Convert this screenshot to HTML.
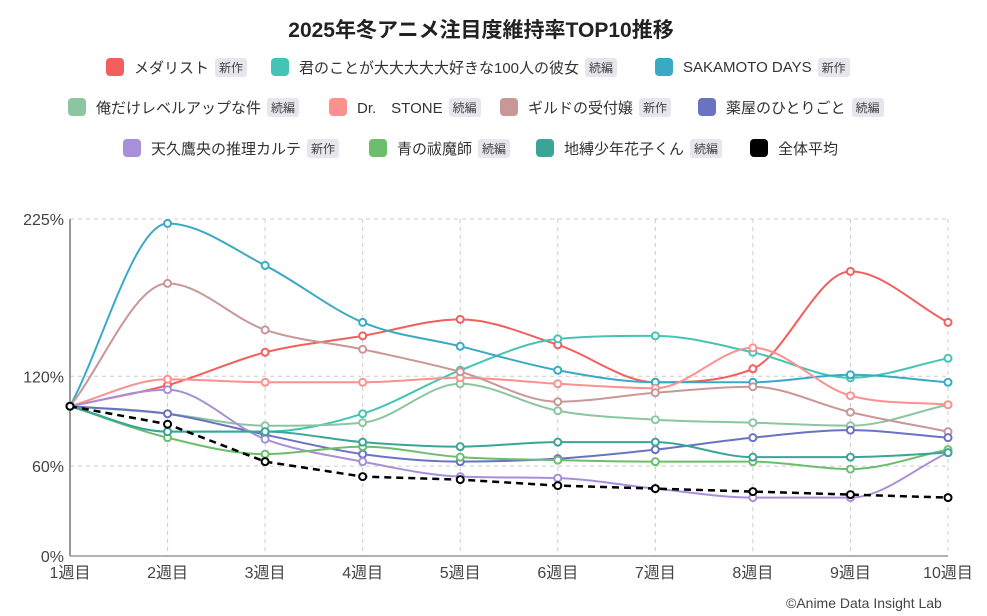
<!DOCTYPE html>
<html><head><meta charset="utf-8">
<style>
body{margin:0;width:987px;height:616px;background:#fff;font-family:"Liberation Sans","Noto Sans CJK JP",sans-serif;overflow:hidden;position:relative}
.title{position:absolute;top:14px;left:0;width:962px;text-align:center;font-size:21px;font-weight:bold;color:#222}
.li{position:absolute;display:flex;align-items:center;font-size:15px;color:#333;white-space:nowrap;height:22px}
.sw{width:18px;height:18px;border-radius:4px;margin-right:10px}
.tag{background:#e6e6ec;color:#444;font-size:12px;padding:1px 4px;border-radius:3px;margin-left:6px}
.foot{position:absolute;left:786px;top:595px;font-size:14px;color:#444}
</style></head><body>
<div class="title">2025年冬アニメ注目度維持率TOP10推移</div>
<div id="legend"></div>
<svg id="chart" width="987" height="616" style="position:absolute;left:0;top:0"></svg>
<div class="foot">©Anime Data Insight Lab</div>
<script>
const weeks=["1週目","2週目","3週目","4週目","5週目","6週目","7週目","8週目","9週目","10週目"];
const yTicks=[0,60,120,225];
const names=["メダリスト","君のことが大大大大大好きな100人の彼女","SAKAMOTO DAYS","俺だけレベルアップな件","Dr.　STONE","ギルドの受付嬢","薬屋のひとりごと","天久鷹央の推理カルテ","青の祓魔師","地縛少年花子くん","全体平均"];
const tags=["新作","続編","新作","続編","続編","新作","続編","新作","続編","続編",""];
const colors=["#f25f5c","#45c4b6","#3aaac4","#8cc6a0","#ff9090","#c99797","#6a72c2","#a88fd9","#6cbd6c","#3aa597","#000"];
const s0=[100,114,136,147,158,141,116,125,190,156];
const s1=[100,83,83,95,124,145,147,136,119,132];
const s2=[100,222,194,156,140,124,116,116,121,116];
const s3=[100,95,87,89,115,97,91,89,87,101];
const s4=[100,118,116,116,119,115,112,139,107,101];
const s5=[100,182,151,138,123,103,109,113,96,83];
const s6=[100,95,81,68,63,65,71,79,84,79];
const s7=[100,111,78,63,53,52,45,39,39,69];
const s8=[100,79,68,73,66,64,63,63,58,71];
const s9=[100,83,83,76,73,76,76,66,66,69];
const avg=[100,88,63,53,51,47,45,43,41,39];
const series=[s0,s1,s2,s3,s4,s5,s6,s7,s8,s9,avg];
const legendPos=[[106,56],[271,56],[655,56],[68,96],[329,96],[500,96],[698,96],[123,137],[369,137],[536,137],[750,137]];

const X0=70,X1=948,Y0=556,Y1=219;
const xs=i=>X0+i*(X1-X0)/(weeks.length-1);
const ys=v=>Y0-v*(Y0-Y1)/225;
const svg=document.getElementById('chart');
const NS="http://www.w3.org/2000/svg";
function mk(t,a){const e=document.createElementNS(NS,t);for(const k in a)e.setAttribute(k,a[k]);svg.appendChild(e);return e;}
yTicks.forEach(t=>{
  const l=mk('line',{x1:X0,x2:X1,y1:ys(t),y2:ys(t),stroke:'#ccc','stroke-dasharray':'4,4'});
  
  
  const tx=mk('text',{x:X0-6,y:ys(t)+6,'text-anchor':'end','font-size':16,fill:'#444'});
  tx.textContent=t+'%';
  
  
});
weeks.forEach((w,i)=>{
  if(i>0){const g=mk('line',{x1:xs(i),x2:xs(i),y1:Y1,y2:Y0,stroke:'#ccc','stroke-dasharray':'4,4'});
  
  }
  const tx=mk('text',{x:xs(i),y:Y0+22,'text-anchor':'middle','font-size':16,fill:'#444'});
  tx.textContent=w;
  
  
});
const ax=mk('line',{x1:X0,x2:X0,y1:Y1,y2:Y0,stroke:'#999','stroke-width':2});


const bx=mk('line',{x1:X0,x2:X1,y1:Y0,y2:Y0,stroke:'#999','stroke-width':1.5});


function monotone(pts){
  const n=pts.length,dx=[],m=[],t=new Array(n);
  for(let i=0;i<n-1;i++){dx[i]=pts[i+1][0]-pts[i][0];m[i]=(pts[i+1][1]-pts[i][1])/dx[i];}
  t[0]=m[0];t[n-1]=m[n-2];
  for(let i=1;i<n-1;i++){t[i]=(m[i-1]*m[i]<=0)?0:(m[i-1]+m[i])/2;}
  for(let i=0;i<n-1;i++){
    if(m[i]===0){t[i]=0;t[i+1]=0;continue;}
    const a=t[i]/m[i],b=t[i+1]/m[i],s=a*a+b*b;
    if(s>9){const k=3/Math.sqrt(s);t[i]=k*a*m[i];t[i+1]=k*b*m[i];}
  }
  let d=`M${pts[0][0]},${pts[0][1]}`;
  for(let i=0;i<n-1;i++){
    const h=dx[i]/3;
    d+=` C${pts[i][0]+h},${pts[i][1]+t[i]*h} ${pts[i+1][0]-h},${pts[i+1][1]-t[i+1]*h} ${pts[i+1][0]},${pts[i+1][1]}`;
  }
  return d;
}
series.forEach((s,si)=>{
  const pts=s.map((v,i)=>[xs(i),ys(v)]);
  const isAvg=si===series.length-1;
  const p=mk('path',{d:isAvg?'M'+pts.map(p=>p.join(',')).join(' L'):monotone(pts),fill:'none',stroke:colors[si],'stroke-width':isAvg?2.5:2,'stroke-dasharray':isAvg?'7,5':'none'});
  
  
  pts.forEach(pt=>{
    const c=mk('circle',{cx:pt[0],cy:pt[1],r:3.5,fill:'#fff',stroke:colors[si],'stroke-width':2});
    
    
  });
});
const lg=document.getElementById('legend');
names.forEach((n,i)=>{
  const d=document.createElement('div');d.className='li';
  d.style.left=legendPos[i][0]+'px';d.style.top=legendPos[i][1]+'px';
  d.innerHTML=`<span class="sw" style="background:${colors[i]}"></span><span>${n}</span>`+(tags[i]?`<span class="tag">${tags[i]}</span>`:'');
  
  
  lg.appendChild(d);
});
</script>
</body></html>
